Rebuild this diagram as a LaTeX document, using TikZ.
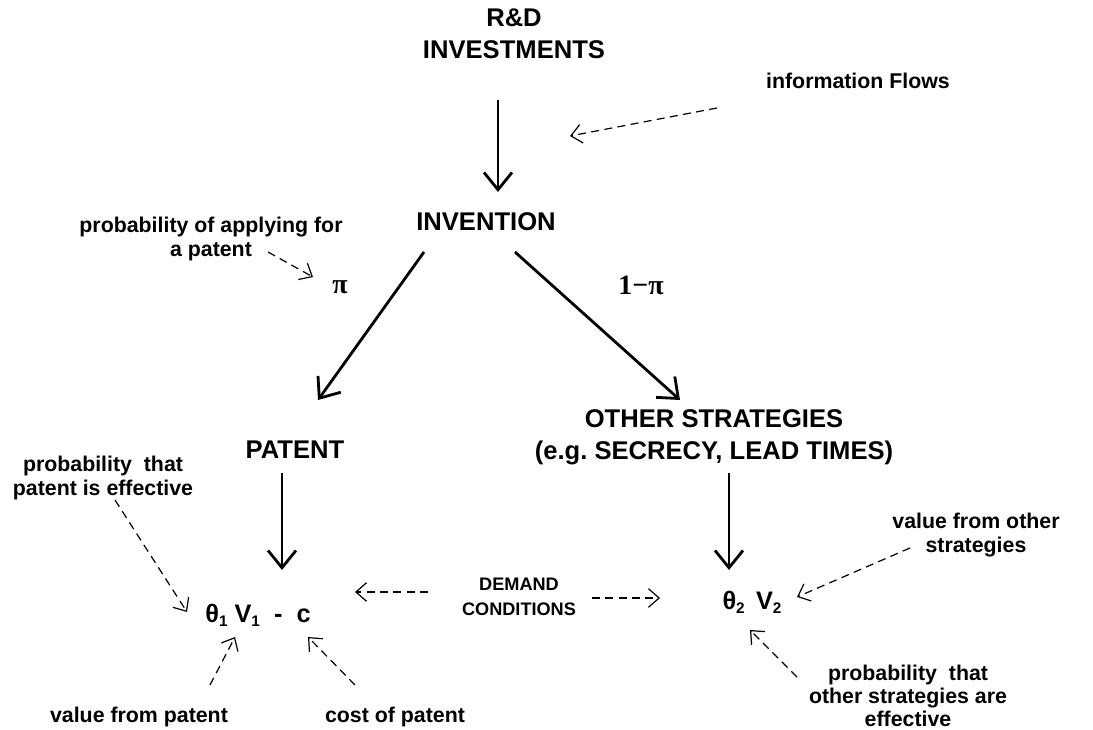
\documentclass[tikz,border=0pt]{standalone}
\usepackage{fontspec}
\setmainfont{Liberation Sans}
\newfontfamily\serifb{Liberation Serif}
\usetikzlibrary{arrows.meta}
\frenchspacing
\tikzset{
  big/.style={font=\fontsize{19.2}{24}\selectfont\bfseries, inner sep=0pt, align=center},
  small/.style={font=\fontsize{16}{17.5}\selectfont\bfseries, inner sep=0pt, align=center},
  mid/.style={font=\fontsize{13.6}{18.7}\selectfont\bfseries, inner sep=0pt, align=center},
  formula/.style={font=\fontsize{19}{22}\selectfont\bfseries, inner sep=0pt},
  greek/.style={font=\fontsize{21}{24}\selectfont\serifb\bfseries, inner sep=0pt},
  mainarrow/.style={line width=2.1pt, -{Straight Barb[length=13pt,width=21pt]}},
  dasharrow/.style={line width=0.9pt, dash pattern=on 6pt off 4pt, -{Straight Barb[length=8pt,width=14pt]}},
}
\newcommand{\sbs}[1]{\raisebox{-0.3ex}{\fontsize{11.5}{12}\selectfont #1}}
\begin{document}
\begin{tikzpicture}[x=0.75pt,y=-0.75pt]
\useasboundingbox (0,0) rectangle (1093,730);
% main nodes
\node[big] (rd) at (514,34) {R\&D\\INVESTMENTS};
\node[big] (inv) at (486,222) {INVENTION};
\node[big] (pat) at (295,450) {PATENT};
\node[big] (oth) at (714,437) {OTHER STRATEGIES\\(e.g. SECRECY, LEAD TIMES)};
\node[formula] (f1) at (258,615) {θ\sbs{1} V\sbs{1} \ -\ \ c};
\node[formula] (f2) at (752,602) {θ\sbs{2} \,V\sbs{2}};
\node[greek] (pi) at (340,287) {π};
\node[greek] (ompi) at (641,285) {1−π};
% labels
\node[small] (info) at (858,81) {information Flows};
\node[small] (papp) at (211,239) {probability of applying for\\a patent};
\node[small] (peff) at (103,478) {probability\ \ that\\patent is effective};
\node[small] (vpat) at (139,717) {value from patent};
\node[small] (cpat) at (395,717) {cost of patent};
\node[mid] (dem) at (519,597) {DEMAND\\CONDITIONS};
\node[small] (voth) at (976,535) {value from other\\strategies};
\node[small] (poth) at (908,696) {probability\ \ that\\other strategies are\\effective};
% connector end points
\coordinate (a1s) at (498,100);
\coordinate (a1e) at (498,192);
\coordinate (l1s) at (424,252);
\coordinate (l1e) at (318,400);
\coordinate (r1s) at (515,252);
\coordinate (r1e) at (680,400);
\coordinate (p1s) at (282,473);
\coordinate (p1e) at (282,570);
\coordinate (o1s) at (729,473);
\coordinate (o1e) at (729,570);
\coordinate (infs) at (717,108);
\coordinate (infe) at (570,136);
\coordinate (paps) at (268,252);
\coordinate (pape) at (313,277);
\coordinate (pefs) at (115,500);
\coordinate (pefe) at (187,612);
\coordinate (vps) at (210,685);
\coordinate (vpe) at (235,637);
\coordinate (cps) at (355,685);
\coordinate (cpe) at (308,637);
\coordinate (dls) at (428,592);
\coordinate (dle) at (355,592);
\coordinate (drs) at (592,598);
\coordinate (dre) at (660,598);
\coordinate (vos) at (910,548);
\coordinate (voe) at (797,597);
\coordinate (pos) at (797,677);
\coordinate (poe) at (750,630);
% solid arrows
\draw[mainarrow] (a1s) -- (a1e);
\draw[mainarrow] (l1s) -- (l1e);
\draw[mainarrow] (r1s) -- (r1e);
\draw[mainarrow] (p1s) -- (p1e);
\draw[mainarrow] (o1s) -- (o1e);
% dashed arrows
\draw[dasharrow] (infs) -- (infe);
\draw[dasharrow] (paps) -- (pape);
\draw[dasharrow] (pefs) -- (pefe);
\draw[dasharrow] (vps) -- (vpe);
\draw[dasharrow] (cps) -- (cpe);
\draw[dasharrow] (dls) -- (dle);
\draw[dasharrow] (drs) -- (dre);
\draw[dasharrow] (vos) -- (voe);
\draw[dasharrow] (pos) -- (poe);
\end{tikzpicture}
\end{document}
